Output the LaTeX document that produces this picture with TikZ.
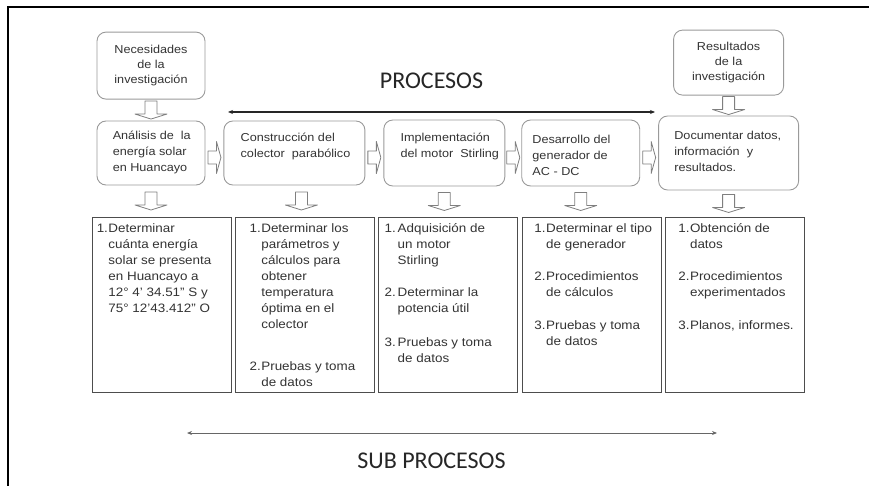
\documentclass[tikz,border=0pt]{standalone}
\usepackage{fontspec}
\setmainfont{Liberation Sans}[FakeStretch=1.1]
\newfontfamily\titulofont{Carlito}
\usetikzlibrary{positioning,calc,arrows.meta}
\definecolor{textogris}{HTML}{333333}
\definecolor{bordegris}{HTML}{9A9A9A}
\definecolor{bordeoscuro}{HTML}{4D4D4D}
\definecolor{flechagris}{HTML}{7F7F7F}

\begin{document}
\begin{tikzpicture}[x=1pt, y=-1pt, node distance=18pt,
    proceso/.style={draw=bordegris, line width=0.9pt, rounded corners=9pt, minimum height=64pt, inner sep=0pt},
    subproceso/.style={draw=bordeoscuro, line width=0.9pt, minimum width=139pt, minimum height=175pt, inner sep=0pt},
    texto/.style={anchor=north west, inner sep=0pt, align=left, text=textogris, font=\fontsize{11.5}{16}\selectfont},
    lista/.style={anchor=north west, inner sep=0pt, text=textogris, font=\fontsize{12.2}{16}\selectfont},
    titulo/.style={inner sep=0pt, text=black!85, font=\titulofont\fontsize{24}{28}\selectfont},
    hueca/.style={draw=flechagris, line width=0.8pt, fill=white, line join=round},
    flechaabajo/.pic={\draw[hueca] (-6,-9) -- (6,-9) -- (6,4) -- (16,4) -- (0,9) -- (-16,4) -- (-6,4) -- cycle;},
    flechader/.pic={\draw[hueca] (-6.5,-6.5) -- (2,-6.5) -- (2,-16) -- (6.5,0) -- (2,16) -- (2,6.5) -- (-6.5,6.5) -- cycle;}]
    \useasboundingbox (0,0) rectangle (869,486);
    \draw[line width=2pt] (8,486) -- (8,7) -- (869,7);

    % procesos
    \node[proceso, minimum width=108pt] (analisis) at (151,153) {};
    \node[proceso, minimum width=141pt, right=of analisis] (construccion) {};
    \node[proceso, minimum width=121pt, minimum height=66pt, right=of construccion] (implementacion) {};
    \node[proceso, minimum width=118pt, minimum height=66pt, right=16pt of implementacion] (desarrollo) {};
    \node[proceso, minimum width=140pt, minimum height=74pt, right=of desarrollo] (documentar) {};
    \node[proceso, minimum width=108pt, minimum height=67pt, above=21pt of analisis, align=center,
      text=textogris, font=\fontsize{11.5}{15}\selectfont] (necesidades) {Necesidades\\de la\\investigación};
    \node[proceso, minimum width=110pt, minimum height=65pt, above=20pt of documentar, align=center,
      text=textogris, font=\fontsize{11.5}{15}\selectfont] (resultados) {Resultados\\de la\\investigación};

    \node[texto] (t-analisis) at ([shift={(16,10.5)}]analisis.north west) {Análisis de \ la\\energía solar\\en Huancayo};
    \node[texto] (t-construccion) at ([shift={(17,12)}]construccion.north west) {Construcción del\\colector \ parabólico};
    \node[texto] (t-implementacion) at ([shift={(17,13)}]implementacion.north west) {Implementación\\del motor \ Stirling};
    \node[texto] (t-desarrollo) at ([shift={(11,15.5)}]desarrollo.north west) {Desarrollo del\\generador de\\AC - DC};
    \node[texto] (t-documentar) at ([shift={(16,15)}]documentar.north west) {Documentar datos,\\información \ y\\resultados.};

    \node[titulo] (procesos) at (431.5,80.5) {PROCESOS};
    \coordinate (p-izq) at (228,112);
    \coordinate (p-der) at (655,112);
    \draw[{Stealth[length=5pt,width=4pt]}-{Stealth[length=5pt,width=4pt]}, line width=1.3pt, black!85] (p-izq) -- (p-der);

    % sub procesos
    \node[subproceso] (sub1) at (161.5,304.5) {};
    \node[subproceso, right=3.5pt of sub1] (sub2) {};
    \node[subproceso, right=3.5pt of sub2] (sub3) {};
    \node[subproceso, right=3.5pt of sub3] (sub4) {};
    \node[subproceso, right=3.5pt of sub4] (sub5) {};

    \node[lista] (l1) at ([shift={(5,5)}]sub1.north west) {\begin{tabular}{@{}l@{\hspace{0.5pt}}l@{}}
      1. & Determinar\\
         & cuánta energía\\
         & solar se presenta\\
         & en Huancayo a\\
         & 12° 4' 34.51" S y\\
         & 75° 12'43.412" O
    \end{tabular}};
    \node[lista] (l2) at ([shift={(14.5,5)}]sub2.north west) {\begin{tabular}{@{}l@{\hspace{0.5pt}}l@{}}
      1. & Determinar los\\
         & parámetros y\\
         & cálculos para\\
         & obtener\\
         & temperatura\\
         & óptima en el\\
         & colector\\[26pt]
      2. & Pruebas y toma\\
         & de datos
    \end{tabular}};
    \node[lista] (l3) at ([shift={(6,5)}]sub3.north west) {\begin{tabular}{@{}l@{\hspace{2pt}}l@{}}
      1. & Adquisición de\\
         & un motor\\
         & Stirling\\[16pt]
      2. & Determinar la\\
         & potencia útil\\[18pt]
      3. & Pruebas y toma\\
         & de datos
    \end{tabular}};
    \node[lista] (l4) at ([shift={(12.5,5)}]sub4.north west) {\begin{tabular}{@{}l@{\hspace{0.5pt}}l@{}}
      1. & Determinar el tipo\\
         & de generador\\[16pt]
      2. & Procedimientos\\
         & de cálculos\\[17pt]
      3. & Pruebas y toma\\
         & de datos
    \end{tabular}};
    \node[lista] (l5) at ([shift={(13,5)}]sub5.north west) {\begin{tabular}{@{}l@{\hspace{0.5pt}}l@{}}
      1. & Obtención de\\
         & datos\\[16pt]
      2. & Procedimientos\\
         & experimentados\\[17pt]
      3. & Planos, informes.
    \end{tabular}};

    \node[titulo] (subprocesos) at (431.5,460.5) {SUB PROCESOS};
    \coordinate (s-izq) at (187,433);
    \coordinate (s-der) at (717,433);
    \draw[{Stealth[length=5pt,width=4pt]}-{Stealth[length=5pt,width=4pt]}, line width=1pt, black!60] (s-izq) -- (s-der);

    % flechas huecas
    \pic at ($(necesidades.south)!0.5!(analisis.north)$) {flechaabajo};
    \pic at ($(resultados.south)!0.5!(documentar.north)$) {flechaabajo};
    \pic at ($(analisis.east)!0.5!(construccion.west) + (0,4.5)$) {flechader};
    \pic at ($(construccion.east)!0.5!(implementacion.west) + (0,4.5)$) {flechader};
    \pic at ($(implementacion.east)!0.5!(desarrollo.west) + (0,4.5)$) {flechader};
    \pic at ($(desarrollo.east)!0.5!(documentar.west) + (0,4.5)$) {flechader};
    \pic at ($(analisis.south)!0.5!(analisis.south |- sub1.north)$) {flechaabajo};
    \pic at ($(construccion.south)!0.5!(construccion.south |- sub2.north) + (7,0)$) {flechaabajo};
    \pic at ($(implementacion.south)!0.5!(implementacion.south |- sub3.north)$) {flechaabajo};
    \pic at ($(desarrollo.south)!0.5!(desarrollo.south |- sub4.north)$) {flechaabajo};
    \pic at ($(documentar.south)!0.5!(documentar.south |- sub5.north)$) {flechaabajo};
\end{tikzpicture}
\end{document}
